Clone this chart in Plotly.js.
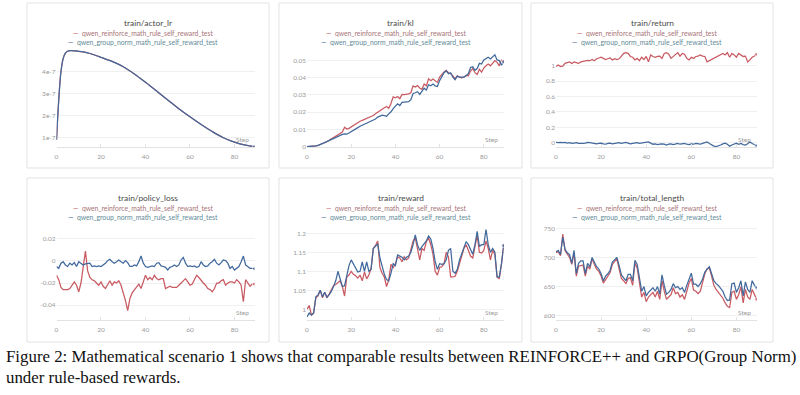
<!DOCTYPE html>
<html><head><meta charset="utf-8">
<script src="https://cdn.plot.ly/plotly-3.0.1.min.js"></script>
<style>html,body{margin:0;padding:0;background:#fff;}#chart{width:800px;height:395px;}</style>
</head><body><div id="chart"></div>
<script>
// ---------------- data ----------------
const steps = Array.from({length: 90}, (_, i) => i);
const xTicks = [0, 20, 40, 60, 80];
const seriesNames = ['qwen_reinforce_math_rule_self_reward_test', 'qwen_group_norm_math_rule_self_reward_test'];
const panelTitles = ['train/actor_lr', 'train/kl', 'train/return', 'train/policy_loss', 'train/reward', 'train/total_length'];

const lrSteps = [0,1,2,3,4,5,6,7,8,10,12,15,20,25,30,35,40,45,50,55,60,65,70,75,80,85,89];
const actorLr = [0.9e-7,2.7e-7,4.0e-7,4.6e-7,4.85e-7,4.93e-7,4.96e-7,4.96e-7,4.95e-7,4.93e-7,4.9e-7,4.83e-7,4.66e-7,4.47e-7,4.23e-7,3.9e-7,3.52e-7,3.12e-7,2.71e-7,2.32e-7,1.95e-7,1.6e-7,1.28e-7,1.0e-7,0.8e-7,0.66e-7,0.59e-7];

const klRed = [0,0,0.0001,0.0002,0.0004,0.0007,0.0012,0.0018,0.0025,0.003,
 0.0037,0.0045,0.0052,0.006,0.0068,0.0075,0.0085,0.0112,0.0102,0.0106,
 0.0115,0.012,0.013,0.0138,0.0147,0.0152,0.0158,0.016,0.0166,0.0172,
 0.018,0.019,0.02,0.021,0.022,0.0225,0.0232,0.0222,0.025,0.0288,
 0.0283,0.029,0.0278,0.0302,0.0301,0.0303,0.0306,0.0312,0.0352,0.0345,
 0.0353,0.034,0.0332,0.0362,0.0352,0.0393,0.0382,0.0392,0.0383,0.0372,
 0.0402,0.0418,0.0432,0.0442,0.0428,0.0422,0.041,0.0392,0.041,0.0402,
 0.0398,0.0402,0.0412,0.041,0.0438,0.0452,0.0428,0.0418,0.0448,0.0432,
 0.0455,0.0468,0.0478,0.0468,0.0482,0.0498,0.0488,0.0468,0.05,0.0492];
const klBlue = [0,0,0.0001,0.0002,0.0004,0.0007,0.0011,0.0017,0.0023,0.0029,
 0.0035,0.0042,0.0049,0.0056,0.0063,0.0068,0.0071,0.0074,0.0073,0.0079,
 0.0086,0.0092,0.0101,0.011,0.0118,0.0124,0.0129,0.0133,0.0139,0.0145,
 0.0152,0.016,0.0171,0.0178,0.0182,0.018,0.0176,0.019,0.0202,0.022,
 0.0232,0.0248,0.0238,0.0256,0.0258,0.0258,0.026,0.0272,0.0308,0.0312,
 0.0318,0.0302,0.0318,0.0338,0.0328,0.0358,0.0352,0.0362,0.0352,0.0348,
 0.0382,0.0408,0.0428,0.0438,0.0422,0.0428,0.0402,0.0388,0.0408,0.0402,
 0.04,0.0402,0.0412,0.0422,0.0458,0.0462,0.0442,0.0452,0.0482,0.0478,
 0.0502,0.0512,0.0518,0.0508,0.052,0.0532,0.0502,0.0498,0.0472,0.0492];

const retRed = [0.99,1.01,0.99,0.995,1.03,1.04,1.05,1.03,1.05,1.04,
 1.03,1.05,1.06,1.07,1.07,1.065,1.08,1.065,1.09,1.1,
 1.11,1.095,1.08,1.09,1.1,1.075,1.09,1.08,1.09,1.125,
 1.16,1.17,1.16,1.12,1.11,1.075,1.095,1.065,1.11,1.08,
 1.12,1.05,1.14,1.12,1.11,1.12,1.125,1.095,1.16,1.17,
 1.15,1.095,1.12,1.14,1.17,1.125,1.16,1.15,1.095,1.075,
 1.11,1.095,1.12,1.125,1.14,1.125,1.12,1.05,1.065,1.08,
 1.095,1.11,1.125,1.15,1.16,1.14,1.17,1.11,1.16,1.14,
 1.11,1.16,1.14,1.12,1.125,1.05,1.075,1.11,1.125,1.15];
const retBlue = [0.005,0,0.005,0,0.005,-0.005,0,-0.01,-0.005,0,
 -0.01,-0.015,-0.01,-0.005,0.005,0,-0.005,-0.01,-0.015,-0.01,
 -0.005,-0.015,-0.02,-0.01,-0.005,-0.015,-0.01,-0.005,0,-0.01,
 -0.005,0.005,-0.005,-0.015,-0.01,-0.005,0,-0.01,-0.005,0,
 0.005,0.01,-0.005,-0.02,-0.015,-0.025,-0.02,-0.015,-0.02,-0.03,
 -0.02,-0.015,-0.025,-0.02,-0.01,-0.02,-0.015,-0.01,-0.02,-0.025,
 -0.015,-0.02,-0.01,-0.015,-0.02,-0.01,0,0.01,-0.01,-0.03,
 -0.045,-0.05,-0.045,-0.03,-0.015,-0.005,-0.02,-0.045,-0.03,-0.015,
 -0.005,-0.02,-0.01,-0.025,-0.03,-0.015,0.01,-0.01,-0.03,-0.04];

const plRed = [-0.013,-0.017,-0.024,-0.026,-0.026,-0.026,-0.025,-0.022,-0.019,-0.022,
 -0.028,-0.02,-0.006,0.009,-0.009,-0.015,-0.017,-0.018,-0.02,-0.022,
 -0.019,-0.023,-0.025,-0.021,-0.018,-0.022,-0.019,-0.02,-0.018,-0.022,
 -0.028,-0.036,-0.045,-0.034,-0.029,-0.026,-0.024,-0.021,-0.025,-0.019,
 -0.013,-0.017,-0.015,-0.017,-0.013,-0.016,-0.017,-0.016,-0.016,-0.025,
 -0.024,-0.023,-0.024,-0.024,-0.024,-0.022,-0.02,-0.018,-0.016,-0.019,
 -0.022,-0.021,-0.017,-0.013,-0.015,-0.018,-0.02,-0.022,-0.025,-0.026,
 -0.028,-0.025,-0.02,-0.02,-0.018,-0.017,-0.022,-0.02,-0.019,-0.019,
 -0.02,-0.017,-0.019,-0.022,-0.037,-0.017,-0.02,-0.023,-0.021,-0.021];
const plBlue = [-0.005,-0.0067,-0.002,-0.0006,-0.0036,-0.005,-0.002,-0.0036,-0.0015,-0.005,
 -0.0006,-0.002,-0.0036,-0.0027,-0.002,-0.002,-0.005,-0.0045,-0.005,-0.0045,
 -0.005,-0.0036,-0.002,0.0003,0.0015,-0.0006,-0.002,-0.0006,0.0009,-0.0006,
 -0.002,0.0003,-0.0015,-0.005,-0.005,-0.0036,-0.0045,-0.0006,0.0045,-0.002,
 -0.005,-0.0058,-0.005,-0.0045,-0.005,-0.002,-0.0015,-0.0045,-0.005,-0.0058,
 -0.0082,-0.0058,-0.005,-0.0036,-0.005,-0.0036,0.0009,0.0033,-0.002,-0.005,
 -0.0045,-0.005,-0.0045,-0.0058,-0.005,-0.0006,-0.0036,-0.005,-0.0045,-0.002,
 -0.0006,0.0015,-0.002,-0.0036,-0.0015,0.0009,0.0003,-0.002,-0.0067,-0.005,
 -0.0082,-0.0067,-0.005,-0.0006,0.0045,-0.0036,-0.005,-0.0067,-0.0067,-0.007];

const rwRed = [1.0,1.01,0.985,0.99,1.03,1.035,1.05,1.03,1.045,1.03,
 1.04,1.05,1.062,1.065,1.07,1.075,1.06,1.035,1.085,1.09,
 1.1,1.092,1.088,1.082,1.09,1.075,1.098,1.08,1.09,1.108,
 1.16,1.168,1.18,1.11,1.095,1.085,1.06,1.078,1.118,1.11,
 1.12,1.138,1.135,1.125,1.138,1.13,1.135,1.155,1.18,1.188,
 1.16,1.13,1.16,1.155,1.178,1.188,1.17,1.145,1.1,1.09,
 1.11,1.112,1.12,1.15,1.138,1.085,1.085,1.087,1.1,1.12,
 1.14,1.16,1.17,1.155,1.14,1.135,1.17,1.195,1.15,1.148,
 1.155,1.18,1.16,1.13,1.155,1.145,1.085,1.08,1.12,1.168];
const rwBlue = [0.98,0.99,0.985,0.99,1.033,1.038,1.05,1.033,1.045,1.032,
 1.038,1.047,1.06,1.075,1.1,1.08,1.06,1.062,1.09,1.115,
 1.13,1.118,1.11,1.098,1.1,1.125,1.1,1.125,1.1,1.105,
 1.16,1.165,1.172,1.135,1.11,1.092,1.078,1.075,1.095,1.12,
 1.115,1.143,1.14,1.137,1.13,1.137,1.14,1.15,1.17,1.196,
 1.17,1.155,1.165,1.172,1.18,1.193,1.185,1.16,1.125,1.105,
 1.12,1.118,1.12,1.13,1.155,1.16,1.1,1.095,1.105,1.13,
 1.145,1.16,1.178,1.17,1.155,1.145,1.17,1.205,1.165,1.17,
 1.17,1.21,1.17,1.15,1.16,1.15,1.085,1.085,1.12,1.168];

const tlRed = [708,710,703,740,712,705,700,688,708,668,
 685,686,687,668,685,680,698,688,680,676,
 668,656,662,668,674,688,693,698,680,664,
 660,655,664,665,652,690,682,655,632,640,
 624,632,636,640,632,642,628,660,642,628,
 632,636,648,638,640,632,636,628,642,656,
 664,644,642,638,642,655,672,680,682,668,
 652,645,640,636,630,622,616,614,640,642,
 628,636,650,622,645,632,628,645,636,628];
const tlBlue = [710,712,705,735,714,708,705,690,712,672,
 690,694,694,672,690,684,700,692,684,680,
 672,660,668,672,678,692,697,700,686,670,
 665,660,671,671,660,695,688,662,642,650,
 634,640,645,648,642,650,637,670,652,637,
 640,645,655,648,650,645,648,640,652,664,
 673,654,654,650,655,663,675,680,684,672,
 660,655,652,647,642,632,626,627,655,656,
 640,648,660,634,658,645,640,660,652,648];

const yTickVals = [
  [1e-7, 2e-7, 3e-7, 4e-7],
  [0, 0.01, 0.02, 0.03, 0.04, 0.05],
  [0, 0.2, 0.4, 0.6, 0.8, 1],
  [-0.04, -0.02, 0, 0.02],
  [1, 1.05, 1.1, 1.15, 1.2],
  [600, 650, 700, 750]
];
const yTickText = [
  ['1e-7', '2e-7', '3e-7', '4e-7'],
  ['0', '0.01', '0.02', '0.03', '0.04', '0.05'],
  ['0', '0.2', '0.4', '0.6', '0.8', '1'],
  ['-0.04', '-0.02', '0', '0.02'],
  ['1', '1.05', '1.1', '1.15', '1.2'],
  ['600', '650', '700', '750']
];
const captionLines = [
  'Figure 2: Mathematical scenario 1 shows that comparable results between REINFORCE++ and GRPO(Group Norm)',
  'under rule-based rewards.'
];

// ---------------- styling / layout ----------------
const W = 800, H = 395;
const RED = '#c85a62', BLUE = '#41699c';
const px = v => v / W, py = v => 1 - v / H;

// panel frames [left, right, top, bottom] in pixels
const frames = [
  [27, 269, 3, 168], [279, 522, 3, 168], [531, 773, 3, 168],
  [27, 269, 178, 342], [279, 522, 178, 342], [531, 773, 178, 342]
];
// plot areas [left, right, top, bottom]
const plots = [
  [56.5, 254.5, 48, 147], [307, 503.7, 48, 147], [556, 756.7, 48, 147],
  [56.5, 254.5, 223, 320], [307, 503.7, 223, 320], [556, 756.7, 223, 320]
];
const yRanges = [
  [0.577e-7, 5.08e-7], [-0.0002, 0.0571], [-0.056, 1.23],
  [-0.0536, 0.0345], [0.9718, 1.2271], [592.6, 759.1]
];
const panelData = [
  [[lrSteps, actorLr], [lrSteps, actorLr]],
  [[steps, klRed], [steps, klBlue]],
  [[steps, retRed], [steps, retBlue]],
  [[steps, plRed], [steps, plBlue]],
  [[steps, rwRed], [steps, rwBlue]],
  [[steps, tlRed], [steps, tlBlue]]
];

const traces = [];
const layout = {
  width: W, height: H,
  margin: {l: 0, r: 0, t: 0, b: 0},
  paper_bgcolor: '#ffffff', plot_bgcolor: '#ffffff',
  showlegend: false,
  font: {family: 'Lato, "Open Sans", sans-serif', color: '#888'},
  shapes: [], annotations: []
};

const tickFont = {family: 'Lato, sans-serif', size: 6.5, color: '#9a9a9a'};

for (let i = 0; i < 6; i++) {
  const n = i + 1;
  const xa = 'xaxis' + (n === 1 ? '' : n), ya = 'yaxis' + (n === 1 ? '' : n);
  const xr = 'x' + (n === 1 ? '' : n), yr = 'y' + (n === 1 ? '' : n);
  const [l, r, t, b] = plots[i];
  layout[xa] = {
    domain: [px(l), px(r)], anchor: yr, range: [0, 89],
    tickvals: xTicks, ticks: 'inside', ticklen: 3, tickcolor: '#e2e2e2',
    ticklabelstandoff: 3,
    showgrid: false, zeroline: false, showline: true, linecolor: '#e2e2e2', linewidth: 1,
    tickfont: tickFont, fixedrange: true
  };
  layout[ya] = {
    domain: [py(b), py(t)], anchor: xr, range: yRanges[i],
    tickvals: yTickVals[i], ticktext: yTickText[i],
    showgrid: true, gridcolor: '#f0f0f0', gridwidth: 1, zeroline: false, showline: false,
    ticks: '', tickfont: tickFont, fixedrange: true
  };
  const cols = [RED, BLUE];
  for (let s = 0; s < 2; s++) {
    const [xs, ys] = panelData[i][s];
    traces.push({
      type: 'scatter', mode: 'lines+markers', x: xs, y: ys, xaxis: xr, yaxis: yr,
      name: seriesNames[s],
      line: {color: cols[s], width: 1.25, shape: i === 0 ? 'spline' : 'linear'},
      marker: {color: cols[s], size: ys.map((v, k) => k === ys.length - 1 ? 4 : 0)},
      hoverinfo: 'skip'
    });
  }
  // frame
  const [fl, fr, ft, fb] = frames[i];
  layout.shapes.push({type: 'rect', xref: 'paper', yref: 'paper',
    x0: px(fl), x1: px(fr), y0: py(fb), y1: py(ft),
    line: {color: '#e3e3e3', width: 1}, fillcolor: 'rgba(0,0,0,0)', layer: 'below'});
  const cx = (fl + fr) / 2;
  // title
  layout.annotations.push({xref: 'paper', yref: 'paper', x: px(cx), y: py(ft + 20),
    text: panelTitles[i], showarrow: false, xanchor: 'center', yanchor: 'middle',
    font: {family: 'Lato, sans-serif', size: 8.4, color: '#4a4a4a'}});
  // legend lines
  const legCols = ['#a77478', '#5f8a98'];
  for (let s = 0; s < 2; s++) {
    layout.annotations.push({xref: 'paper', yref: 'paper', x: px(cx - 5), y: py(ft + 30 + s * 8.5),
      text: '<span style="color:' + cols[s] + '">\u2014</span>  ' + seriesNames[s],
      showarrow: false, xanchor: 'center', yanchor: 'middle',
      font: {family: 'Lato, sans-serif', size: 6.8, color: legCols[s]}});
  }
  // Step label
  layout.annotations.push({xref: xr + ' domain', yref: yr + ' domain', x: 0.98, y: 0.02,
    text: 'Step', showarrow: false, xanchor: 'right', yanchor: 'bottom',
    font: {family: 'Lato, sans-serif', size: 6.5, color: '#9a9a9a'}});
}

// caption
captionLines.forEach((txt, k) => {
  layout.annotations.push({xref: 'paper', yref: 'paper', x: px(4), y: py(356 + k * 21),
    text: txt, showarrow: false, xanchor: 'left', yanchor: 'middle',
    font: {family: '"Liberation Serif", "Times New Roman", serif', size: 16.85, color: '#111'}});
});

Plotly.newPlot('chart', traces, layout, {staticPlot: true, displayModeBar: false});
</script>
</body></html>
